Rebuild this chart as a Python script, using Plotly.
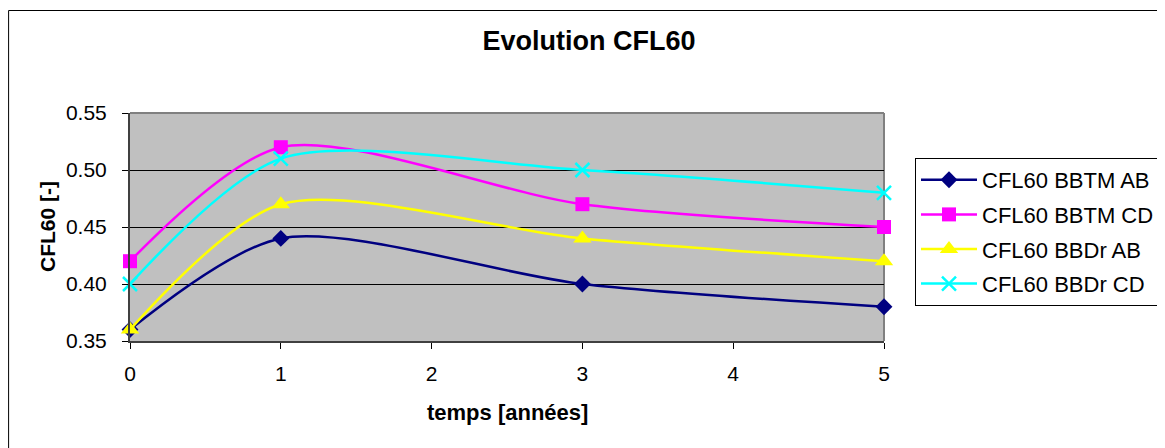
import plotly.graph_objects as go

years = [0, 1, 3, 5]
series_names = ["CFL60 BBTM AB", "CFL60 BBTM CD", "CFL60 BBDr AB", "CFL60 BBDr CD"]
bbtm_ab = [0.36, 0.44, 0.40, 0.38]
bbtm_cd = [0.42, 0.52, 0.47, 0.45]
bbdr_ab = [0.36, 0.47, 0.44, 0.42]
bbdr_cd = [0.40, 0.51, 0.50, 0.48]
y_ticks = [0.35, 0.40, 0.45, 0.50, 0.55]
x_ticks = [0, 1, 2, 3, 4, 5]

values = [bbtm_ab, bbtm_cd, bbdr_ab, bbdr_cd]
colors = ["#000080", "#FF00FF", "#FFFF00", "#00FFFF"]
symbols = ["diamond", "square", "triangle-up", "x-thin"]
sizes = [13, 14, 16, 14]

FONT = "Arial, Liberation Sans, sans-serif"

fig = go.Figure()
for i, (name, vals) in enumerate(zip(series_names, values)):
    marker = dict(symbol=symbols[i], size=sizes[i], color=colors[i])
    if symbols[i] == "x-thin":
        marker["line"] = dict(color=colors[i], width=2.5)
    fig.add_trace(go.Scatter(
        x=years, y=vals, name=name, mode="lines+markers",
        line=dict(color=colors[i], width=2.5, shape="spline", smoothing=0.8),
        marker=marker, cliponaxis=False, legendgroup=f"g{i}",
    ))

# page has an 8px body margin; work in page pixels, convert to figure pixels
OFF = 8
PW, PH = 1165, 448
W, H = PW - OFF, PH - OFF
L, R, T, B = 130 - OFF, 884 - OFF, 113 - OFF, 341 - OFF
pw, ph = R - L, B - T

def px_x(p):
    return (p - OFF - L) / pw

def px_y(p):
    return (B - (p - OFF)) / ph

fig.update_layout(
    width=W, height=H,
    margin=dict(l=L, r=W - R, t=T, b=H - B, pad=0, autoexpand=False),
    paper_bgcolor="white",
    plot_bgcolor="#C0C0C0",
    font=dict(family=FONT, size=22, color="black"),
    title=dict(text="<b>Evolution CFL60</b>", x=(589 - OFF) / W, xanchor="center",
               xref="container", y=1 - (41 - OFF) / H, yanchor="middle", yref="container",
               font=dict(size=27, family=FONT, color="black")),
    showlegend=True,
    legend=dict(x=px_x(915), y=px_y(158), xanchor="left", yanchor="top",
                bgcolor="white", bordercolor="black", borderwidth=1,
                font=dict(size=22, family=FONT), tracegroupgap=3,
                itemwidth=56),
    xaxis=dict(range=[0, 5], tickvals=x_ticks, ticks="outside", ticklen=6,
               tickcolor="black", showgrid=False, zeroline=False,
               showline=True, linecolor="#404040", linewidth=2, mirror=False,
               ticklabelstandoff=7, tickfont=dict(size=21)),
    yaxis=dict(range=[0.35, 0.55], tickvals=y_ticks, tickformat=".2f",
               ticks="outside", ticklen=6, tickcolor="black",
               showgrid=True, gridcolor="black", gridwidth=1, zeroline=False,
               showline=True, linecolor="#404040", linewidth=2,
               ticklabelstandoff=11, tickfont=dict(size=21)),
    annotations=[
        dict(text="<b>temps [années]</b>", xref="paper", yref="paper",
             x=0.5, y=px_y(412), xanchor="center", yanchor="middle",
             showarrow=False, font=dict(size=22, family=FONT)),
        dict(text="<b>CFL60 [-]</b>", xref="paper", yref="paper",
             x=px_x(47), y=0.5, xanchor="center", yanchor="middle",
             textangle=-90, showarrow=False, font=dict(size=21, family=FONT)),
    ],
    shapes=[
        dict(type="line", xref="paper", yref="paper", x0=0, x1=1, y0=1, y1=1,
             line=dict(color="#808080", width=2), layer="below"),
        dict(type="line", xref="paper", yref="paper", x0=1, x1=1, y0=0, y1=1,
             line=dict(color="#808080", width=2), layer="below"),
        dict(type="rect", xref="paper", yref="paper",
             x0=px_x(8.6), x1=px_x(1175), y0=px_y(460), y1=px_y(10.5),
             line=dict(color="black", width=1), fillcolor="rgba(0,0,0,0)"),
    ],
)

fig.write_html("out.html")
